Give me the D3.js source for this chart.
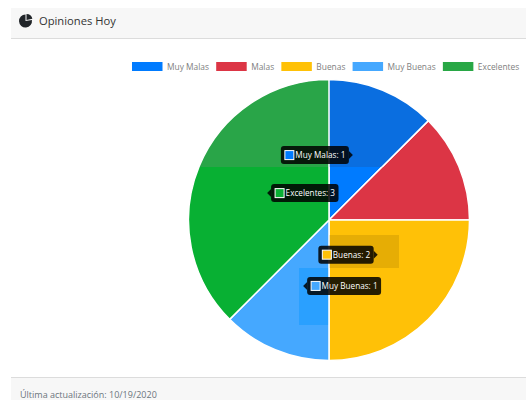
<!DOCTYPE html>
<html><head><meta charset="utf-8">
<script src="https://cdn.jsdelivr.net/npm/d3@7"></script>
<style>html,body{margin:0;padding:0;background:#fff;overflow:hidden}svg{display:block}text{font-family:"Open Sans",sans-serif}</style>
</head><body><svg id="c" width="526" height="400"></svg>
<script>
const categories=["Muy Malas","Malas","Buenas","Muy Buenas","Excelentes"];
const values=[1,1,2,1,3];
const colors=["#007bff","#dc3545","#ffc107","#45a8ff","#08b033"];
const legendColors=["#007bff","#dc3545","#ffc107","#45a8ff","#28a745"];
const title="Opiniones Hoy";
const footer="Última actualización: 10/19/2020";

const svg=d3.select("#c");
const cx=329,cy=220,R=140.5;
// card header and footer
svg.append("rect").attr("x",11).attr("y",8).attr("width",515).attr("height",30).attr("fill","#f7f7f7");
svg.append("rect").attr("x",11).attr("y",38).attr("width",515).attr("height",1).attr("fill","#dcdcdc");
svg.append("rect").attr("x",11).attr("y",378).attr("width",515).attr("height",22).attr("fill","#f7f7f7");
svg.append("rect").attr("x",11).attr("y",377).attr("width",515).attr("height",1).attr("fill","#dcdcdc");
svg.append("text").attr("x",39).attr("y",24.5).attr("font-size",11.2).attr("fill","#333").text(title);
svg.append("text").attr("x",20).attr("y",397.5).attr("font-size",9).attr("fill","#6c757d").text(footer);
// header icon
const ic=svg.append("g").attr("transform","translate(25.5,21)").attr("fill","#212529");
ic.append("path").attr("d",d3.arc()({innerRadius:0,outerRadius:6.5,startAngle:Math.PI/2.2,endAngle:Math.PI*2}));
ic.append("path").attr("transform","translate(1,-1)").attr("d",d3.arc()({innerRadius:0,outerRadius:6,startAngle:0,endAngle:Math.PI/2.3}));
// legend
const legend=svg.append("g");
let lx=132;
categories.forEach((c,i)=>{
  legend.append("rect").attr("x",lx).attr("y",62).attr("width",30.5).attr("height",9).attr("fill",legendColors[i]);
  const t=legend.append("text").attr("x",lx+35).attr("y",69.5).attr("font-size",8.4).attr("fill","#808080").text(c);
  lx+=35+t.node().getComputedTextLength()+7.2;
});
// pie
const pie=d3.pie().sort(null).value(d=>d);
const arcs=pie(values);
const arc=d3.arc().innerRadius(0).outerRadius(R);
svg.append("g").attr("transform",`translate(${cx},${cy})`).selectAll("path").data(arcs).join("path")
  .attr("d",arc).attr("fill",(d,i)=>colors[i]).attr("stroke","#fff").attr("stroke-width",1.5);
// tinted patches seen on the slices
const defs=svg.append("defs");
const patches=[
 {i:0,x:329,y:78,w:145,h:89,fill:"#0a6ee0"},
 {i:4,x:185,y:78,w:144,h:89,fill:"#29a548"},
 {i:2,x:329,y:235,w:70,h:33,fill:"#e6ad05"},
 {i:3,x:299,y:268,w:30,h:57,fill:"#2aa0ff"}
];
patches.forEach((p,k)=>{
  defs.append("clipPath").attr("id","p"+k).append("rect").attr("x",p.x).attr("y",p.y).attr("width",p.w).attr("height",p.h);
  svg.append("g").attr("clip-path",`url(#p${k})`).append("path")
    .attr("transform",`translate(${cx},${cy})`).attr("d",arc(arcs[p.i])).attr("fill",p.fill).attr("stroke","#fff").attr("stroke-width",1.5);
});
// tooltips
const side=["right","right","right","left","left"];
const nudge=[[-3,0],[0,0],[-1,-15],[1,1],[3,0]];
[0,4,2,3].forEach(i=>{
  const [mx,my]=arc.centroid(arcs[i]);
  const tipx=cx+mx+nudge[i][0],tipy=cy+my+nudge[i][1];
  const g=svg.append("g").attr("transform",`translate(${tipx},${tipy})`);
  const label=g.append("text").attr("font-size",8.2).attr("fill","#fff").attr("y",2.9).text(categories[i]+": "+values[i]);
  const tw=label.node().getComputedTextLength();
  const w=tw+18,h=18,a=4;
  const x0=side[i]==="right"?-a-w:a;
  g.insert("rect","text").attr("x",x0).attr("y",-h/2).attr("width",w).attr("height",h).attr("rx",3).attr("fill","#000").attr("fill-opacity",.85);
  const s=side[i]==="right"?-1:1;
  g.insert("path","text").attr("d",`M0,0L${s*a},-4L${s*a},4Z`).attr("fill","#000").attr("fill-opacity",.85);
  g.append("rect").attr("x",x0+4).attr("y",-4.5).attr("width",9).attr("height",9).attr("fill",colors[i]).attr("stroke","#fff").attr("stroke-width",1);
  label.attr("x",x0+14.5);
});
</script></body></html>
